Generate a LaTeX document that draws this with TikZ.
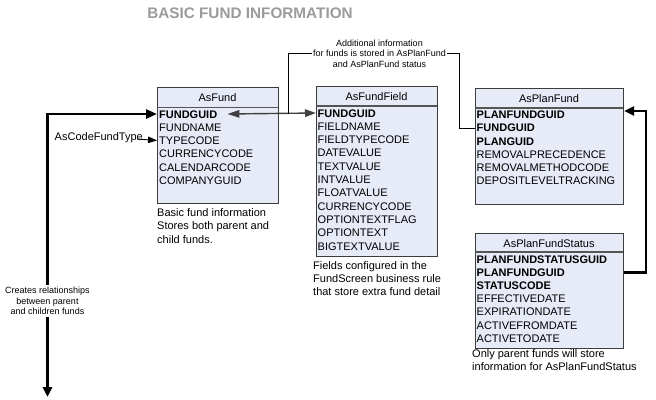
\documentclass[tikz,border=0pt]{standalone}
\usepackage{fontspec}
\setmainfont{Liberation Sans}
\usetikzlibrary{arrows.meta,calc}
\definecolor{boxfill}{RGB}{230,235,247}
\definecolor{boxline}{RGB}{60,60,60}
\definecolor{sepline}{RGB}{85,85,85}
\definecolor{titlegray}{RGB}{155,155,155}
\definecolor{dblgray}{RGB}{64,64,64}
\tikzset{
  tbl/.style={draw=boxline, fill=boxfill, line width=1.1pt, anchor=north west, inner sep=0pt},
  sepln/.style={draw=sepline, line width=1.8pt},
  hdr/.style={font=\fontsize{11}{13}\selectfont, inner sep=0pt, text height=8pt, text depth=0pt},
  rowtxt/.style={font=\fontsize{11}{13}\selectfont, anchor=west, inner sep=0pt, text height=8pt, text depth=0pt},
  rowbold/.style={rowtxt, font=\fontsize{11}{13}\selectfont\bfseries},
  captxt/.style={font=\fontsize{11}{13.3}\selectfont, align=left, anchor=north west, inner sep=0pt},
  notetxt/.style={font=\fontsize{9}{10.5}\selectfont, align=center, inner sep=1.5pt},
  thk/.style={line width=2.8pt, black},
  thinln/.style={line width=0.9pt, black},
}
\begin{document}
\begin{tikzpicture}[x=1pt,y=-1pt]
\useasboundingbox (0,0) rectangle (656,399);
% title
\node[font=\fontsize{15.3}{18}\selectfont\bfseries, text=titlegray] (title) at (250,13) {BASIC FUND INFORMATION};

% AsFund
\node[tbl, minimum width=121pt, minimum height=116pt] (asfund) at (157,87) {};
\draw[sepln] (157,107.5) -- (278,107.5);
\node[hdr] (asfundh) at (217.5,97) {AsFund};
\foreach \t/\s [count=\i] in {FUNDGUID/rowbold, FUNDNAME/rowtxt, TYPECODE/rowtxt, CURRENCYCODE/rowtxt, CALENDARCODE/rowtxt, COMPANYGUID/rowtxt}
  \node[\s] (af\i) at (159,{114+(\i-1)*13.25}) {\t};
\node[captxt] (afcap) at (157,208.5) {Basic fund information\\Stores both parent and\\child funds.};

% AsFundField
\node[tbl, minimum width=121pt, minimum height=170pt] (aff) at (316,86) {};
\draw[sepln] (316,106) -- (437,106);
\node[hdr] (affh) at (376.5,96) {AsFundField};
\foreach \t/\s [count=\i] in {FUNDGUID/rowbold, FIELDNAME/rowtxt, FIELDTYPECODE/rowtxt, DATEVALUE/rowtxt, TEXTVALUE/rowtxt, INTVALUE/rowtxt, FLOATVALUE/rowtxt, CURRENCYCODE/rowtxt, OPTIONTEXTFLAG/rowtxt, OPTIONTEXT/rowtxt, BIGTEXTVALUE/rowtxt}
  \node[\s] (aff\i) at (317.5,{113+(\i-1)*13.3}) {\t};
\node[captxt] (affcap) at (313,261) {Fields configured in the\\FundScreen business rule\\that store extra fund detail};

% AsPlanFund
\node[tbl, minimum width=148pt, minimum height=116pt] (apf) at (475,88) {};
\draw[sepln] (475,108) -- (623,108);
\node[hdr] (apfh) at (549,98) {AsPlanFund};
\foreach \t/\s [count=\i] in {PLANFUNDGUID/rowbold, FUNDGUID/rowbold, PLANGUID/rowbold, REMOVALPRECEDENCE/rowtxt, REMOVALMETHODCODE/rowtxt, DEPOSITLEVELTRACKING/rowtxt}
  \node[\s] (apf\i) at (476.5,{114.5+(\i-1)*13.25}) {\t};

% AsPlanFundStatus
\node[tbl, minimum width=148pt, minimum height=115pt] (apfs) at (475,233) {};
\draw[sepln] (475,252) -- (623,252);
\node[hdr] (apfsh) at (549,243) {AsPlanFundStatus};
\foreach \t/\s [count=\i] in {PLANFUNDSTATUSGUID/rowbold, PLANFUNDGUID/rowbold, STATUSCODE/rowbold, EFFECTIVEDATE/rowtxt, EXPIRATIONDATE/rowtxt, ACTIVEFROMDATE/rowtxt, ACTIVETODATE/rowtxt}
  \node[\s] (apfs\i) at (476.5,{259+(\i-1)*13.2}) {\t};
\node[captxt] (apfscap) at (472,349.5) {Only parent funds will store\\information for AsPlanFundStatus};

% left thick relationship arrow
\coordinate (relbot) at (47.5,397);
\draw[thk, {Triangle[length=10pt,width=9pt]}-{Triangle[length=11pt,width=9pt]}] (relbot) |- (asfund.west |- af1);
\node[notetxt, fill=white, inner sep=2pt] (rellbl) at (47.5,301) {Creates relationships\\between parent\\and children funds};

% AsCodeFundType
\node[font=\fontsize{11}{13}\selectfont, anchor=base east, inner sep=0pt] (acft) at (143,140) {AsCodeFundType};
\draw[thinln, -{Triangle[length=9pt,width=6.5pt]}] ([xshift=-6pt,yshift=1pt]acft.base east) -- (asfund.west |- af3);

% FUNDGUID double arrow
\draw[line width=1.4pt, dblgray, {Triangle[length=12pt,width=7.5pt]}-{Triangle[length=11pt,width=7.5pt]}] ([xshift=10pt]af1.east) -- (aff.west |- aff1);

% note to AsPlanFund
\node[notetxt] (addl) at (379.5,53.5) {Additional information\\for funds is stored in AsPlanFund\\and AsPlanFund status};
\coordinate (jn) at (288,114);
\draw[thinln] (jn) |- (addl.west);
\coordinate (rt) at (459,128);
\draw[thinln] (addl.east) -| (rt) -- (apf.west |- rt);

% right thick arrow
\coordinate (rc) at (646,111);
\draw[thk, -{Triangle[length=10pt,width=9pt]}] (apfs.east |- apfs2) -| (rc) -- (apf.east |- rc);
\end{tikzpicture}
\end{document}
